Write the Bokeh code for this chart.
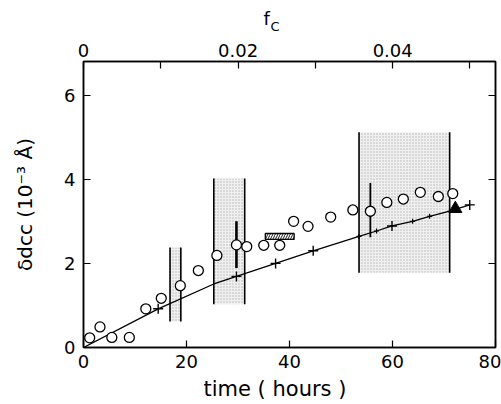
from bokeh.plotting import figure
from bokeh.models import LinearAxis, Range1d, FixedTicker, Title, CustomJSTickFormatter
from bokeh.embed import file_html
from bokeh.resources import INLINE

# ---- data ----
circ_t = [1.2, 3.2, 5.5, 8.9, 12.1, 15.1, 18.8, 22.3, 25.9, 29.7, 31.7, 35.0,
          38.1, 40.8, 43.6, 48.0, 52.3, 55.7, 58.9, 62.1, 65.4, 68.9, 71.7]
circ_y = [0.23, 0.49, 0.24, 0.24, 0.92, 1.17, 1.47, 1.83, 2.19, 2.44, 2.40, 2.43,
          2.43, 3.00, 2.88, 3.10, 3.27, 3.24, 3.45, 3.53, 3.69, 3.59, 3.66]

fit_t = [0, 14.5, 25.3, 29.7, 37.3, 44.6, 53.5, 56.9, 59.9, 63.9, 67.2, 71.1, 75.0]
fit_y = [0, 0.92, 1.51, 1.69, 2.00, 2.30, 2.64, 2.77, 2.89, 3.00, 3.12, 3.24, 3.39]
big_cross_t = [14.5, 29.7, 37.3, 44.6, 59.9, 75.0]
big_cross_y = [0.92, 1.69, 2.00, 2.30, 2.89, 3.39]
small_cross_t = [53.5, 56.9, 63.9, 67.2, 71.1]
small_cross_y = [2.64, 2.77, 3.00, 3.12, 3.24]

tri_t = [72.2]
tri_y = [3.30]

band_left = [16.8, 25.3, 53.5]
band_right = [18.9, 31.3, 71.1]
band_bottom = [0.62, 1.03, 1.78]
band_top = [2.38, 4.02, 5.12]

err_t = [29.7, 55.7]
err_lo = [1.89, 2.62]
err_hi = [3.00, 3.91]
err_w = [2.6, 1.8]

hatch_box = dict(left=35.3, right=40.9, bottom=2.57, top=2.71)

x_ticks = [0, 20, 40, 60, 80]
y_ticks = [0, 2, 4, 6]
fc_ticks = [0, 0.02, 0.04]
fc_minor = [0.01, 0.03, 0.05]
fc_max = 0.0533

x_title = "time ( hours )"
y_title = "\u03b4dcc (10\u207b\u00b3 \u00c5)"
fc_main = "f"
fc_sub = "C"

FONT = "DejaVu Sans"

p = figure(width=501, height=404, x_range=Range1d(0, 80), y_range=Range1d(0, 6.8),
           output_backend="svg", toolbar_location=None,
           min_border_left=83, min_border_right=6, min_border_top=61, min_border_bottom=56)
p.grid.visible = False
p.outline_line_color = "black"
p.outline_line_width = 1.5
p.background_fill_color = "white"
p.border_fill_color = "white"

def style_axis(ax):
    ax.axis_line_width = 1.5
    ax.axis_line_color = "black"
    ax.major_tick_in = 7
    ax.major_tick_out = 0
    ax.major_tick_line_width = 1.2
    ax.minor_tick_in = 7
    ax.minor_tick_out = 0
    ax.minor_tick_line_width = 1.2
    ax.major_label_text_font = FONT
    ax.major_label_text_font_size = "18px"
    ax.major_label_text_color = "black"

xa = p.xaxis[0]
xa.ticker = FixedTicker(ticks=x_ticks)
style_axis(xa)
xa.minor_tick_line_color = None
xa.major_label_standoff = 7

ya = p.yaxis[0]
ya.ticker = FixedTicker(ticks=y_ticks)
style_axis(ya)
ya.minor_tick_line_color = None
ya.major_label_standoff = 8
ya.axis_label = y_title
ya.axis_label_text_font = FONT
ya.axis_label_text_font_size = "20px"
ya.axis_label_text_font_style = "normal"
ya.axis_label_text_color = "black"
ya.axis_label_standoff = 24

p.extra_x_ranges = {"fc": Range1d(0, fc_max)}
top = LinearAxis(x_range_name="fc", ticker=FixedTicker(ticks=fc_ticks, minor_ticks=fc_minor),
                 formatter=CustomJSTickFormatter(code="return tick == 0 ? '0' : tick.toFixed(2);"))
style_axis(top)
top.major_label_standoff = 5
p.add_layout(top, "above")

right = LinearAxis(ticker=FixedTicker(ticks=y_ticks),
                   formatter=CustomJSTickFormatter(code="return '';"))
style_axis(right)
right.minor_tick_line_color = None
right.major_label_standoff = 0
p.add_layout(right, "right")

# titles placed in the side panels (not clipped); align="left" so offset applies
def side_title(text, side, size, offset, standoff):
    t = Title(text=text, align="left", offset=offset, standoff=standoff,
              text_font=FONT, text_font_size=size, text_font_style="normal",
              text_color="black")
    p.add_layout(t, side)

side_title(x_title, "below", "21px", 120, 8)
side_title(fc_sub, "above", "13px", 187, 14)
side_title(fc_main, "above", "18px", 180, -39)

# shaded bands
p.quad(left=band_left, right=band_right, bottom=band_bottom, top=band_top,
       fill_color="#f0f0f0", line_color=None, hatch_pattern="dot",
       hatch_color="#b4b4b4", hatch_scale=3, hatch_weight=0.6)
p.segment(x0=band_left, y0=band_bottom, x1=band_left, y1=band_top,
          line_color="black", line_width=1.6)
p.segment(x0=band_right, y0=band_bottom, x1=band_right, y1=band_top,
          line_color="black", line_width=1.6)

# error bars
p.segment(x0=err_t, y0=err_lo, x1=err_t, y1=err_hi, line_color="black", line_width=err_w)

# hatched box
p.quad(left=[hatch_box["left"]], right=[hatch_box["right"]],
       bottom=[hatch_box["bottom"]], top=[hatch_box["top"]],
       fill_color="white", line_color="black", line_width=1.3,
       hatch_pattern="/", hatch_color="black", hatch_scale=5, hatch_weight=0.9)

# fit line with crosses
p.line(fit_t, fit_y, line_color="black", line_width=1.3)
p.scatter(big_cross_t, big_cross_y, marker="cross", size=10, line_color="black", line_width=1.4)
p.scatter(small_cross_t, small_cross_y, marker="cross", size=5, line_color="black", line_width=1.2)

# open circles
p.scatter(circ_t, circ_y, marker="circle", size=10, fill_color="white",
          line_color="black", line_width=1.3)

# filled triangle
p.scatter(tri_t, tri_y, marker="triangle", size=13, fill_color="black", line_color="black")

open("out.html", "w").write(file_html(p, INLINE))
